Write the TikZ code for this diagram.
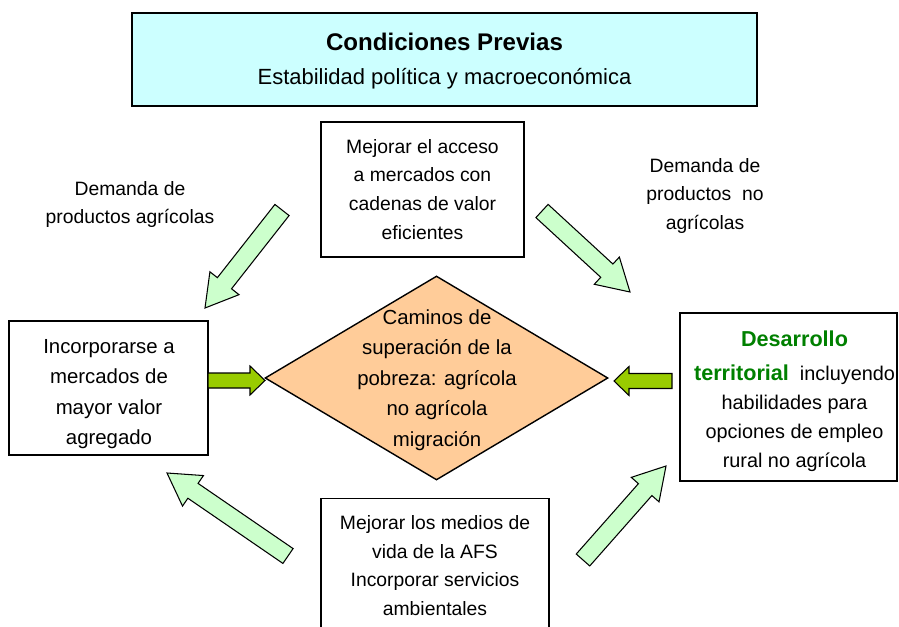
\documentclass[tikz,border=0pt]{standalone}
\usepackage{fontspec}
\setmainfont{Liberation Sans}
\usetikzlibrary{calc,shapes.geometric}

\definecolor{condblue}{HTML}{CCFFFF}
\definecolor{pathorange}{HTML}{FFCC99}
\definecolor{palegreen}{HTML}{CCFFCC}
\definecolor{limegreen}{HTML}{99CC00}
\definecolor{darkgreen}{HTML}{008000}

% block arrow: style, tail, tip, half shaft, half head, head length
\newcommand{\blockarrow}[6]{%
  \coordinate (#2-b) at ($(#3)!#6!(#2)$);
  \draw[#1] ($(#2)!#4!90:(#3)$) -- ($(#2-b)!#4!90:(#3)$) -- ($(#2-b)!#5!90:(#3)$)
    -- (#3) -- ($(#2-b)!#5!-90:(#3)$) -- ($(#2-b)!#4!-90:(#3)$) -- ($(#2)!#4!-90:(#3)$) -- cycle;
}

\begin{document}
\begin{tikzpicture}
        [
            box/.style={draw, line width=0.8pt, align=center, inner sep=0pt},
            txt/.style={align=center, font=\fontsize{11}{16.4}\selectfont},
            fat/.style={draw, line width=0.6pt, fill=palegreen},
            stub/.style={draw, line width=0.6pt, fill=limegreen},
        ]
            \clip (0,0) rectangle (17.98,12.52);

            \node[box, fill=condblue, minimum width=12.5cm, minimum height=1.86cm] (cond) at (8.89,11.33) {};
            \node[anchor=base, font=\fontsize{13.7}{16}\selectfont\bfseries] (condtitle) at (8.89,11.50) {Condiciones Previas};
            \node[anchor=base, font=\fontsize{12.5}{14}\selectfont] (condsub) at (8.89,10.83) {Estabilidad política y macroeconómica};

            \node[box, txt, minimum width=4.06cm, minimum height=2.7cm] (acceso) at (8.45,8.73) {Mejorar el acceso\\a mercados con\\cadenas de valor\\eficientes};

            \node[box, minimum width=3.98cm, minimum height=2.68cm] (incorp) at (2.17,4.76) {};
            \node[align=center, font=\fontsize{11.6}{17.4}\selectfont] (incorptext) at (2.18,4.64) {Incorporarse a\\mercados de\\mayor valor\\agregado};

            \node[diamond, draw, line width=0.8pt, fill=pathorange, minimum width=6.86cm, minimum height=4.08cm, inner sep=0pt] (camino) at (8.73,4.96) {};
            \node[align=center, font=\fontsize{11.6}{17.3}\selectfont] (caminotext) at (8.74,4.92) {Caminos de\\superación de la\\pobreza: agrícola\\no agrícola\\migración};

            \node[box, minimum width=4.34cm, minimum height=3.36cm] (territorio) at (15.77,4.58) {};
            \node[align=center, font=\fontsize{11.3}{16.5}\selectfont] (territoriotext) at (15.89,4.49)
                {{\color{darkgreen}\bfseries\fontsize{12.3}{14}\selectfont Desarrollo}\\[3pt]{\color{darkgreen}\bfseries\fontsize{12.3}{14}\selectfont territorial}\ \ incluyendo\\habilidades para\\opciones de empleo\\rural no agrícola};

            \node[box, anchor=north, minimum width=4.56cm, minimum height=2.7cm, font=\fontsize{11}{16.3}\selectfont] (vida) at (8.70,2.57) {Mejorar los medios de\\vida de la AFS\\Incorporar servicios\\ambientales};

            \node[txt] (demagri) at (2.6,8.43) {Demanda de\\productos agrícolas};
            \node[txt] (demnoagri) at (14.1,8.60) {Demanda de\\productos\ \ no\\agrícolas};

            \coordinate (agri-tail) at (5.64,8.32);
            \coordinate (agri-tip) at (4.10,6.36);
            \coordinate (noagri-tail) at (10.84,8.30);
            \coordinate (noagri-tip) at (12.6,6.68);
            \coordinate (medios-tail) at (5.76,1.40);
            \coordinate (medios-tip) at (3.34,3.06);
            \coordinate (amb-tail) at (11.66,1.32);
            \coordinate (amb-tip) at (13.32,3.2);
            \coordinate (incorp-tail) at (4.16,4.91);
            \coordinate (incorp-tip) at (5.30,4.91);
            \coordinate (territorio-tail) at (13.44,4.90);
            \coordinate (territorio-tip) at (12.28,4.90);

            \blockarrow{fat}{agri-tail}{agri-tip}{0.18cm}{0.37cm}{0.63cm}
            \blockarrow{fat}{noagri-tail}{noagri-tip}{0.18cm}{0.37cm}{0.63cm}
            \blockarrow{fat}{medios-tail}{medios-tip}{0.18cm}{0.37cm}{0.63cm}
            \blockarrow{fat}{amb-tail}{amb-tip}{0.18cm}{0.37cm}{0.63cm}
            \blockarrow{stub}{incorp-tail}{incorp-tip}{0.15cm}{0.29cm}{0.3cm}
            \blockarrow{stub}{territorio-tail}{territorio-tip}{0.15cm}{0.29cm}{0.3cm}
        \end{tikzpicture}
\end{document}
